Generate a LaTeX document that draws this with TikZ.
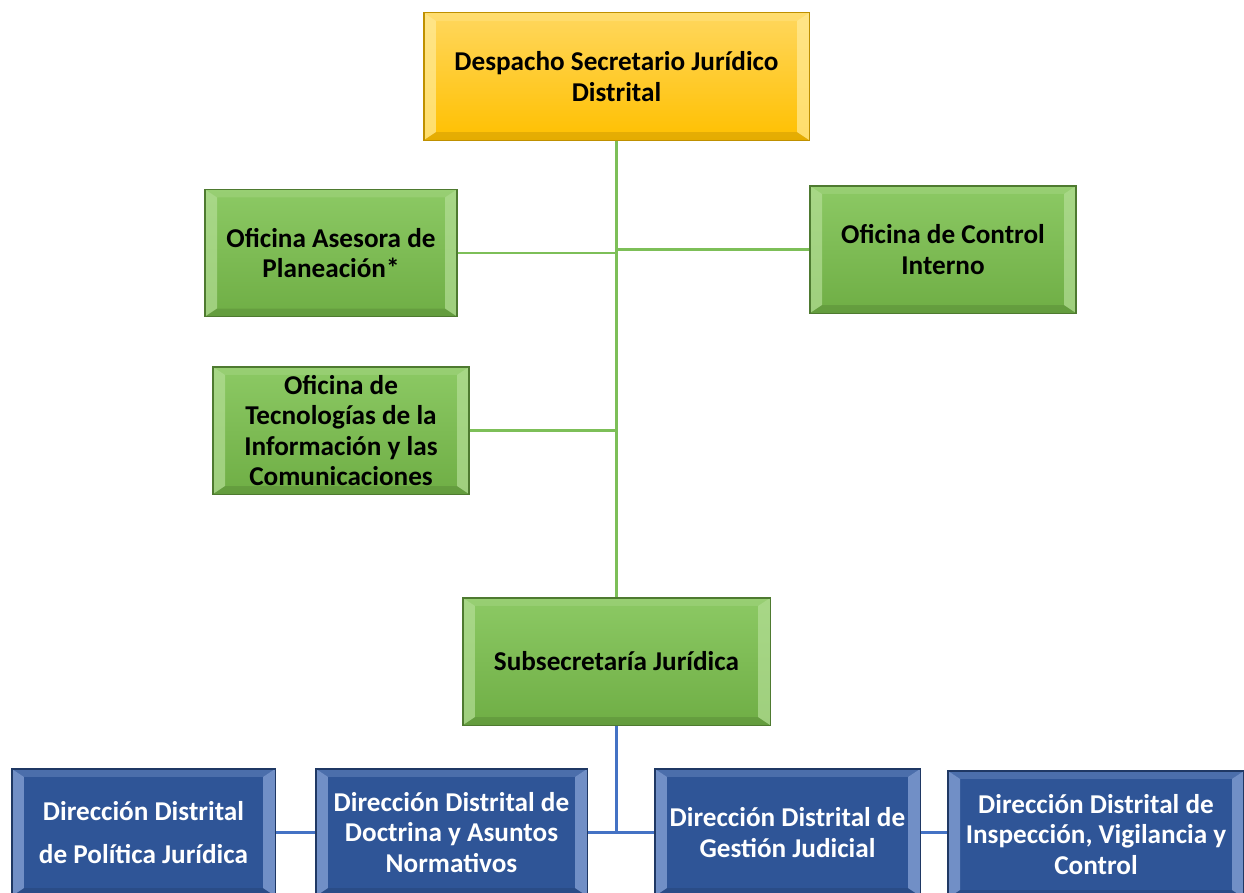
\documentclass[tikz,border=0pt]{standalone}
\usepackage{fontspec}
\setmainfont{Carlito}
\usepackage{tikz}
\usetikzlibrary{positioning, calc}

\definecolor{goldtop}{HTML}{FFD75E}
\definecolor{goldbot}{HTML}{FFC000}
\definecolor{goldedge}{HTML}{BF9000}
\definecolor{goldlight}{HTML}{FFEB99}
\definecolor{leaftop}{HTML}{8CC964}
\definecolor{leafbot}{HTML}{6FAE45}
\definecolor{leafedge}{HTML}{4E7A30}
\definecolor{leaflight}{HTML}{B4DE96}
\definecolor{navyfill}{HTML}{2F5597}
\definecolor{navyedge}{HTML}{1F3864}
\definecolor{navylight}{HTML}{8EA9DB}
\definecolor{leafline}{HTML}{7DBF58}
\definecolor{navyline}{HTML}{4472C4}

\tikzset{
  bevel/.style={path picture={
      \path (path picture bounding box.south west) coordinate (bsw)
            (path picture bounding box.north east) coordinate (bne)
            (bsw|-bne) coordinate (bnw)
            (bne|-bsw) coordinate (bse);
      \fill[#1, opacity=0.7] (bsw) -- (bnw) -- ([shift={(9pt,-6pt)}]bnw) -- ([shift={(9pt,6pt)}]bsw) -- cycle;
      \fill[#1, opacity=0.7] (bse) -- (bne) -- ([shift={(-9pt,-6pt)}]bne) -- ([shift={(-9pt,6pt)}]bse) -- cycle;
      \fill[#1, opacity=0.3] (bnw) -- (bne) -- ([shift={(-9pt,-6pt)}]bne) -- ([shift={(9pt,-6pt)}]bnw) -- cycle;
      \fill[black, opacity=0.1] (bsw) -- (bse) -- ([shift={(-9pt,6pt)}]bse) -- ([shift={(9pt,6pt)}]bsw) -- cycle;
  }},
  unit/.style={rectangle, inner sep=0pt, align=center, minimum height=95.3pt,
      font=\bfseries\fontsize{20.4}{22.8}\selectfont},
  headbox/.style={unit, top color=goldtop, bottom color=goldbot, draw=goldedge, line width=0.8pt, bevel=goldlight},
  officebox/.style={unit, top color=leaftop, bottom color=leafbot, draw=leafedge, line width=0.8pt, bevel=leaflight},
  deptbox/.style={unit, fill=navyfill, draw=navyedge, line width=0.8pt, text=white, bevel=navylight},
  leaflink/.style={draw=leafline, line width=2.2pt},
  navylink/.style={draw=navyline, line width=2.6pt}
}

\begin{document}
\begin{tikzpicture}[x=0.75pt, y=-0.75pt]
  \clip (0,0) rectangle (1244,892);
  \fill[white] (0,0) rectangle (1244,892);

  % top level
  \node[headbox, minimum width=288.8pt] (despacho) at (616.5,76.5) {Despacho Secretario Jurídico\\Distrital};

  % offices
  \node[officebox, minimum width=189pt]   (planeacion) at (331,253)   {Oficina Asesora de\\Planeación*};
  \node[officebox, minimum width=199.5pt] (control)    at (943,249.5) {Oficina de Control\\Interno};
  \node[officebox, minimum width=192pt]   (tic)        at (341,430.5) {Oficina de\\Tecnologías de la\\Información y las\\Comunicaciones};
  \node[officebox, minimum width=230.3pt] (subsec)     at (616.5,661.5) {Subsecretaría Jurídica};

  % directions
  \node[deptbox, minimum width=197.3pt] (politica)   at (143.5,832.5) {Dirección Distrital\\[9pt]de Política Jurídica};
  \node[deptbox, minimum width=203.3pt] (doctrina)   at (451.5,832.5) {Dirección Distrital de\\Doctrina y Asuntos\\Normativos};
  \node[deptbox, minimum width=198.8pt] (judicial)   at (787.5,832.5) {Dirección Distrital de\\Gestión Judicial};
  \node[deptbox, minimum width=222pt]   (inspeccion) at (1096,834.5)  {Dirección Distrital de\\Inspección, Vigilancia y\\Control};

  % green links
  \draw[leaflink] (despacho.south) -- (subsec.north);
  \draw[leaflink] (planeacion.east) -- (planeacion.east -| despacho.south);
  \draw[leaflink] (control.west -| despacho.south) -- (control.west);
  \draw[leaflink] (tic.east) -- (tic.east -| despacho.south);

  % blue links
  \draw[navylink] (subsec.south) |- (judicial.west);
  \foreach \from/\to in {politica/doctrina, doctrina/judicial}
    \draw[navylink] (\from.east) -- (\to.west);
  \draw[navylink] (judicial.east) -- (judicial.east -| inspeccion.west);
\end{tikzpicture}
\end{document}
